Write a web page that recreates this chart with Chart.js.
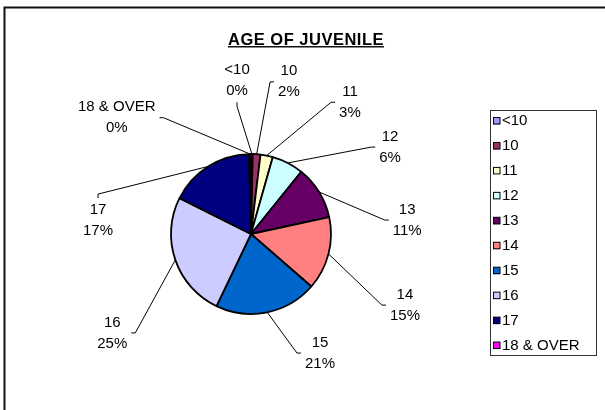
<!DOCTYPE html>
<html>
<head>
<meta charset="utf-8">
<script src="https://cdn.jsdelivr.net/npm/chart.js@4.4.0/dist/chart.umd.min.js"></script>
<style>
  html, body { margin: 0; padding: 0; background: #fff; }
  #wrap { width: 605px; height: 410px; }
</style>
</head>
<body>
<div id="wrap"><canvas id="pie" width="605" height="410"></canvas></div>
<script>
// age groups and their share of juveniles (percent)
const categories = ['<10', '10', '11', '12', '13', '14', '15', '16', '17', '18 & OVER'];
const shares = [0.35, 1.55, 2.5, 6.4, 10.8, 14.8, 20.7, 25.3, 17.2, 0.4];
const sliceColors = ['#9999FF', '#993366', '#FFFFCC', '#CCFFFF', '#660066',
                     '#FF8080', '#0066CC', '#CCCCFF', '#000080', '#FF00FF'];

// where excel put each data label: compass angle (deg) and distance in pie radii
const labelAngle = [354.8, 14.0, 36.9, 58.0, 84.9, 114.8, 149.9, 234.5, 275.2, 310.9];
const labelDist = [1.93, 1.96, 2.06, 2.05, 1.96, 2.12, 1.72, 2.13, 1.92, 2.22];
// which side of the label the leader line attaches to
const labelSide = ['b', 'l', 'l', 'l', 'l', 'l', 'l', 'r', 't', 'r'];

const FONT = '"Liberation Sans", Arial, sans-serif';

const excelExtras = {
    id: 'excel_extras',
    afterDraw: (chart) => {
        const ctx = chart.ctx;
        ctx.save();

        // outer chart frame (only top and left show in the picture)
        ctx.strokeStyle = '#111';
        ctx.lineWidth = 2;
        ctx.strokeRect(4.5, 7.5, 700, 600);

        // title, underlined
        ctx.fillStyle = '#000';
        ctx.font = 'bold 16.5px ' + FONT;
        ctx.letterSpacing = '0.5px';
        ctx.textAlign = 'center';
        ctx.textBaseline = 'alphabetic';
        const title = 'AGE OF JUVENILE';
        ctx.fillText(title, 306, 44.5);
        const tw = ctx.measureText(title).width;
        ctx.letterSpacing = '0px';
        ctx.lineWidth = 1.5;
        ctx.beginPath();
        ctx.moveTo(306 - tw / 2, 46.8);
        ctx.lineTo(306 + tw / 2, 46.8);
        ctx.stroke();

        // data labels with leader lines
        const meta = chart.getDatasetMeta(0);
        const values = chart.data.datasets[0].data;
        const total = values.reduce((a, b) => a + b, 0);
        ctx.font = '15px ' + FONT;
        ctx.textBaseline = 'middle';
        meta.data.forEach((arc, i) => {
            const p = arc.getProps(['x', 'y', 'startAngle', 'endAngle', 'outerRadius'], true);
            const mid = (p.startAngle + p.endAngle) / 2;
            const rimX = p.x + Math.cos(mid) * p.outerRadius;
            const rimY = p.y + Math.sin(mid) * p.outerRadius;
            const a = labelAngle[i] * Math.PI / 180;
            const cx = p.x + Math.sin(a) * labelDist[i] * p.outerRadius;
            const cy = p.y - Math.cos(a) * labelDist[i] * p.outerRadius;
            const pct = Math.round(values[i] / total * 100) + '%';
            const w = Math.max(ctx.measureText(chart.data.labels[i]).width, ctx.measureText(pct).width);

            let tickEnd, tickStart;
            switch (labelSide[i]) {
                case 'l':
                    tickEnd = [cx - w / 2 - 4, cy];
                    tickStart = [tickEnd[0] - 4, cy];
                    break;
                case 'r':
                    tickEnd = [cx + w / 2 + 4, cy];
                    tickStart = [tickEnd[0] + 4, cy];
                    break;
                case 't':
                    tickEnd = [cx, cy - 18 - 4];
                    tickStart = [cx, tickEnd[1] - 4];
                    break;
                default:
                    tickEnd = [cx, cy + 18 + 4];
                    tickStart = [cx, tickEnd[1] + 4];
            }
            ctx.strokeStyle = '#000';
            ctx.lineWidth = 1;
            ctx.beginPath();
            ctx.moveTo(rimX, rimY);
            ctx.lineTo(tickStart[0], tickStart[1]);
            ctx.lineTo(tickEnd[0], tickEnd[1]);
            ctx.stroke();

            ctx.fillStyle = '#000';
            ctx.fillText(chart.data.labels[i], cx, cy - 10.5);
            ctx.fillText(pct, cx, cy + 10.5);
        });

        // legend box on the right
        ctx.strokeStyle = '#333';
        ctx.lineWidth = 1;
        ctx.strokeRect(490.5, 110.5, 106, 245);
        ctx.textAlign = 'left';
        const colors = chart.data.datasets[0].backgroundColor;
        chart.data.labels.forEach((lab, i) => {
            const ly = 121 + i * 24.95;
            ctx.fillStyle = colors[i];
            ctx.fillRect(493, ly - 3.5, 7, 7);
            ctx.strokeStyle = '#000';
            ctx.strokeRect(493.5, ly - 3.5, 6.5, 6.5);
            ctx.fillStyle = '#000';
            ctx.fillText(lab, 502, ly);
        });

        ctx.restore();
    }
};

const juvenileChart = new Chart(document.getElementById('pie'), {
    type: 'pie',
    data: {
        labels: categories,
        datasets: [{
            data: shares,
            backgroundColor: sliceColors,
            borderColor: '#000',
            borderWidth: 1.8,
            radius: 80
        }]
    },
    options: {
        responsive: false,
        animation: false,
        layout: { padding: { left: 0, right: 103, top: 58, bottom: 0 } },
        plugins: {
            legend: { display: false },
            title: { display: false },
            tooltip: { enabled: false }
        }
    },
    plugins: [excelExtras]
});
</script>
</body>
</html>
